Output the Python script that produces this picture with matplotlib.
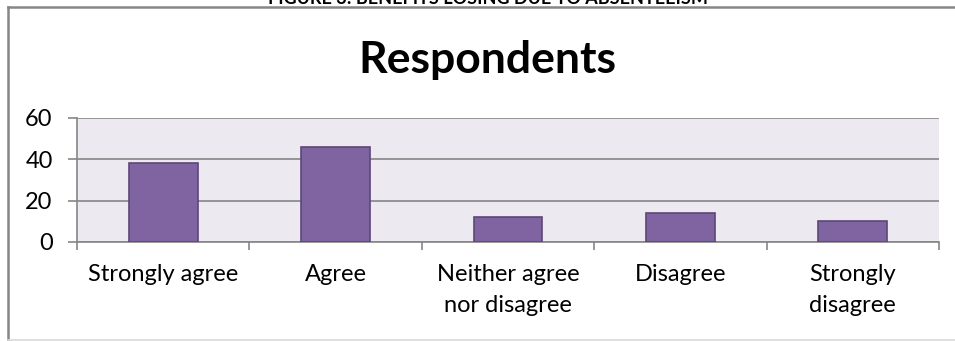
import matplotlib.pyplot as plt
from matplotlib.lines import Line2D

plt.rcParams['font.family'] = ['Lato', 'DejaVu Sans']

categories = ['Strongly agree', 'Agree', 'Neither agree\nnor disagree', 'Disagree', 'Strongly\ndisagree']
respondents = [38, 46, 12, 14, 10]
y_ticks = [0, 20, 40, 60]

W, H = 955, 341
fig = plt.figure(figsize=(W / 100, H / 100), dpi=100)

# chart frame: dark left/top edges, light bottom edge
fig.lines.append(Line2D([8 / W, 8 / W], [1 - 340 / H, 1 - 6.5 / H], transform=fig.transFigure,
                        color='#868686', linewidth=1.8))
fig.lines.append(Line2D([8 / W, 1], [1 - 6.5 / H, 1 - 6.5 / H], transform=fig.transFigure,
                        color='#868686', linewidth=1.8))
fig.lines.append(Line2D([8 / W, 1], [1 - 340 / H, 1 - 340 / H], transform=fig.transFigure,
                        color='#D9D9D9', linewidth=1.2))
fig.text(488 / W, 1 - 4 / H, 'FIGURE 3: BENEFITS LOSING DUE TO ABSENTEEISM', ha='center', va='baseline',
         fontsize=13, fontweight='bold', color='black')

ax = fig.add_axes([77 / W, 1 - 242 / H, 862 / W, 124 / H])
ax.set_facecolor('#ECEAF0')
x = list(range(len(categories)))
ax.bar(x, respondents, 0.4, color='#8064A2', edgecolor='#5C4776', linewidth=1.2, zorder=3)

ax.set_xlim(-0.5, len(categories) - 0.5)
ax.set_ylim(0, 60)
ax.set_yticks(y_ticks)
ax.set_yticklabels([str(v) for v in y_ticks], fontsize=17)
ax.yaxis.grid(True, color='#868686', linewidth=1.2, zorder=1)
ax.set_xticks(x)
ax.set_xticklabels(categories, fontsize=17, linespacing=1.55)
ax.set_xticks([i - 0.5 for i in range(len(categories) + 1)], minor=True)
ax.tick_params(axis='x', which='major', length=0, pad=16)
ax.tick_params(axis='x', which='minor', length=6, color='#868686', width=1.2)
ax.tick_params(axis='y', length=6.5, color='#868686', width=1.2, pad=11)
for s in ['top', 'right']:
    ax.spines[s].set_visible(False)
for s in ['left', 'bottom']:
    ax.spines[s].set_color('#868686')
    ax.spines[s].set_linewidth(1.2)

fig.text(487 / W, 1 - 60 / H, 'Respondents', ha='center', va='center', fontsize=32, fontweight='bold')

fig.savefig('out.png', dpi=100)
